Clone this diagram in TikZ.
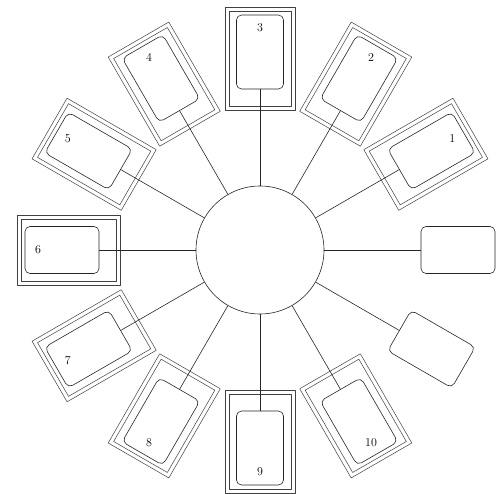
\documentclass[tikz,border=0pt]{standalone}
\usepackage{tikz}
\begin{document}
\begin{tikzpicture}[x=1pt, y=1pt, line join=round,
  every node/.style={font=\fontsize{12}{14}\selectfont},
  frameout/.style={draw=black!75, line width=0.5pt, minimum width=103pt, minimum height=70pt,
    inner sep=0pt, outer sep=0pt},
  framein/.style={draw=black!75, line width=0.5pt, minimum width=95pt, minimum height=62pt,
    inner sep=0pt, outer sep=0pt},
  card/.style={draw=black!85, line width=0.6pt, rounded corners=5pt, fill=white,
    minimum width=74pt, minimum height=47pt, inner sep=0pt, outer sep=0pt},
  link/.style={draw=black!85, line width=0.6pt}]
  \useasboundingbox (-260,-243) rectangle (240,250);

  % central hub
  \node[draw=black!85, line width=0.6pt, circle, minimum size=128pt, inner sep=0pt]
    (hub) at (0,0) {};

  % framed stations
  \node[frameout, rotate=30] (fo1) at (30:191.5) {};
  \node[framein, rotate=30] (fi1) at (30:191.5) {};
  \node[card, rotate=30] (c1) at (30:198) {};
  \node (n1) at (30:222) {1};
  \node[frameout, rotate=60] (fo2) at (60:191.5) {};
  \node[framein, rotate=60] (fi2) at (60:191.5) {};
  \node[card, rotate=60] (c2) at (60:198) {};
  \node (n2) at (60:222) {2};
  \node[frameout, rotate=90] (fo3) at (90:191.5) {};
  \node[framein, rotate=90] (fi3) at (90:191.5) {};
  \node[card, rotate=90] (c3) at (90:198) {};
  \node (n3) at (90:222) {3};
  \node[frameout, rotate=120] (fo4) at (120:191.5) {};
  \node[framein, rotate=120] (fi4) at (120:191.5) {};
  \node[card, rotate=120] (c4) at (120:198) {};
  \node (n4) at (120:222) {4};
  \node[frameout, rotate=150] (fo5) at (150:191.5) {};
  \node[framein, rotate=150] (fi5) at (150:191.5) {};
  \node[card, rotate=150] (c5) at (150:198) {};
  \node (n5) at (150:222) {5};
  \node[frameout, rotate=180] (fo6) at (180:191.5) {};
  \node[framein, rotate=180] (fi6) at (180:191.5) {};
  \node[card, rotate=180] (c6) at (180:198) {};
  \node (n6) at (180:222) {6};
  \node[frameout, rotate=210] (fo7) at (210:191.5) {};
  \node[framein, rotate=210] (fi7) at (210:191.5) {};
  \node[card, rotate=210] (c7) at (210:198) {};
  \node (n7) at (210:222) {7};
  \node[frameout, rotate=240] (fo8) at (240:191.5) {};
  \node[framein, rotate=240] (fi8) at (240:191.5) {};
  \node[card, rotate=240] (c8) at (240:198) {};
  \node (n8) at (240:222) {8};
  \node[frameout, rotate=270] (fo9) at (270:191.5) {};
  \node[framein, rotate=270] (fi9) at (270:191.5) {};
  \node[card, rotate=270] (c9) at (270:198) {};
  \node (n9) at (270:222) {9};
  \node[frameout, rotate=300] (fo10) at (300:191.5) {};
  \node[framein, rotate=300] (fi10) at (300:191.5) {};
  \node[card, rotate=300] (c10) at (300:198) {};
  \node (n10) at (300:222) {10};

  % open stations, no frame
  \node[card] (cE) at (0:198) {};
  \node[card, rotate=330] (cSE) at (330:198) {};

  % spokes
  \draw[link] (hub.0) -- (cE.west);
  \draw[link] (hub.30) -- (c1.west);
  \draw[link] (hub.60) -- (c2.west);
  \draw[link] (hub.90) -- (c3.west);
  \draw[link] (hub.120) -- (c4.west);
  \draw[link] (hub.150) -- (c5.west);
  \draw[link] (hub.180) -- (c6.west);
  \draw[link] (hub.210) -- (c7.west);
  \draw[link] (hub.240) -- (c8.west);
  \draw[link] (hub.270) -- (c9.west);
  \draw[link] (hub.300) -- (c10.west);
  \draw[link] (hub.330) -- (cSE.west);
\end{tikzpicture}
\end{document}
